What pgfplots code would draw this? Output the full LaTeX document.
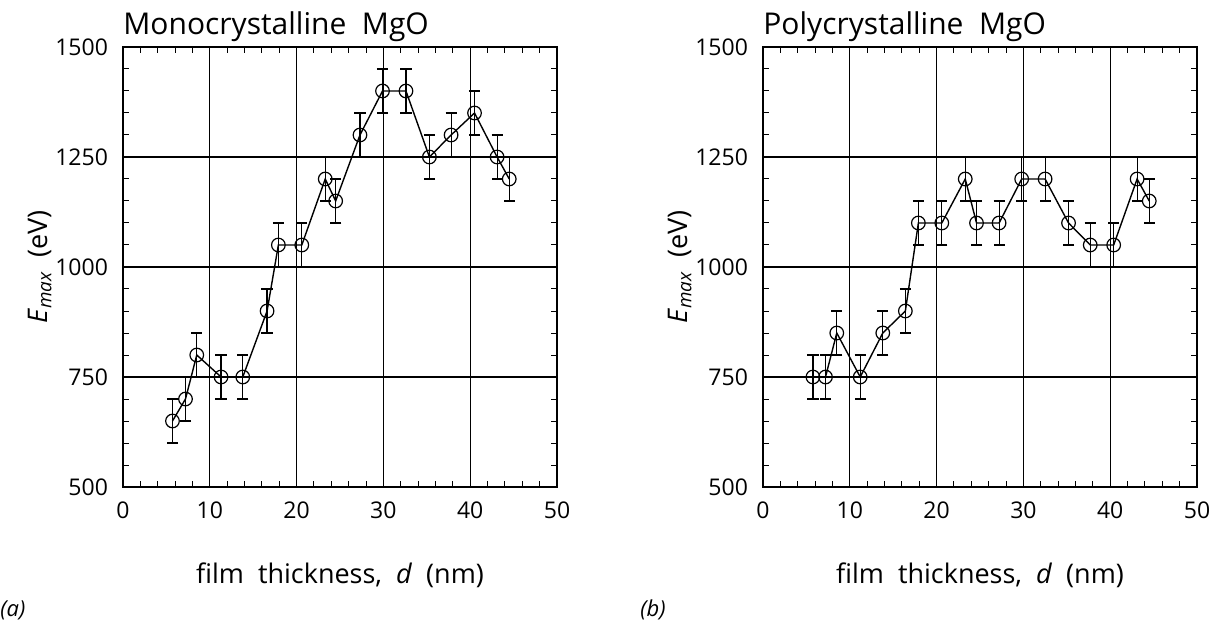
\documentclass[border=0pt]{standalone}
\usepackage{fontspec}
\setmainfont{Open Sans}
\usepackage{pgfplots}
\pgfplotsset{compat=1.18}
\begin{document}
\begin{tikzpicture}[x=1pt,y=1pt]
\useasboundingbox (0,0) rectangle (612.5,310.5);
\pgfplotsset{
  myax/.style={
    width=217pt, height=220pt, scale only axis,
    xmin=0, xmax=50, ymin=500, ymax=1500,
    xtick={0,10,...,50}, ytick={500,750,...,1500},
    minor xtick={0,2,...,50}, minor ytick={500,550,...,1500},
    grid=major, major grid style={black, line width=0.65pt},
    tick align=inside, major tick length=0pt, minor tick length=3pt,
    tick style={black, line width=0.5pt},
    axis line style={line width=0.9pt},
    ticklabel style={font=\fontsize{11.5}{12}\selectfont},
    xticklabel style={yshift=-4pt},
    yticklabel style={xshift=-4pt},
    /pgf/number format/assume math mode=true,
    /pgf/number format/1000 sep={},
    xlabel={film\ \ thickness,\ \ \textit{d}\ \ (nm)},
    ylabel={\textit{E}\textsubscript{\textit{max}}\ \ (eV)},
    label style={font=\fontsize{13.5}{15}\selectfont},
    xlabel style={yshift=-15pt},
    ylabel style={yshift=-5pt},
    anchor=south west,
  },
  myplot/.style={black, line width=0.7pt, mark=o, mark size=3.4pt,
    mark options={fill=white, line width=0.6pt},
    error bars/.cd, y dir=both, y explicit,
    error bar style={line width=0.6pt},
    error mark options={rotate=90, mark size=2.8pt, line width=0.6pt}},
}
\begin{axis}[myax, at={(61.5pt,67pt)}]
\addplot+[myplot] table[x=x,y=y,y error=e]{
x y e
5.7 650 50
7.2 700 50
8.5 800 50
11.3 750 50
13.8 750 50
16.6 900 50
17.9 1050 50
20.6 1050 50
23.3 1200 50
24.5 1150 50
27.3 1300 50
29.9 1400 50
32.6 1400 50
35.3 1250 50
37.8 1300 50
40.5 1350 50
43.1 1250 50
44.5 1200 50
};
\end{axis}
\begin{axis}[myax, at={(381.5pt,67pt)}]
\addplot+[myplot] table[x=x,y=y,y error=e]{
x y e
5.75 750 50
7.2 750 50
8.5 850 50
11.2 750 50
13.8 850 50
16.4 900 50
17.9 1100 50
20.6 1100 50
23.3 1200 50
24.6 1100 50
27.2 1100 50
29.8 1200 50
32.5 1200 50
35.2 1100 50
37.7 1050 50
40.4 1050 50
43.1 1200 50
44.5 1150 50
};
\end{axis}
\node[anchor=base west, inner sep=0pt, font=\fontsize{15}{17}\selectfont] at (61.5,293) {Monocrystalline\ \ MgO};
\node[anchor=base west, inner sep=0pt, font=\fontsize{15}{17}\selectfont] at (381.5,293) {Polycrystalline\ \ MgO};
\node[anchor=west, inner sep=0pt, font=\itshape\fontsize{11}{12}\selectfont] at (0,5.5) {(a)};
\node[anchor=west, inner sep=0pt, font=\itshape\fontsize{11}{12}\selectfont] at (320,5.5) {(b)};
\end{tikzpicture}
\end{document}
